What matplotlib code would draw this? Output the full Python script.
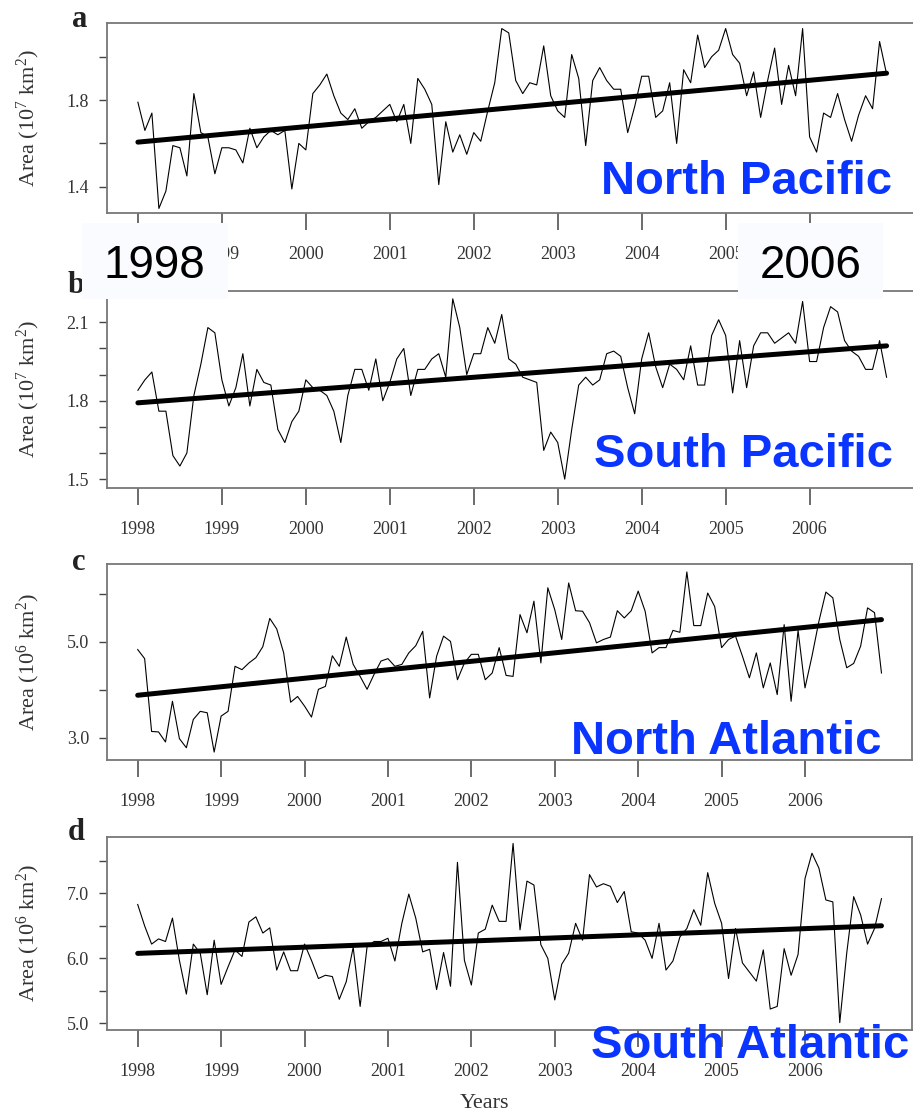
import numpy as np
import matplotlib
matplotlib.use("Agg")
import matplotlib.pyplot as plt
from matplotlib.patches import Rectangle

plt.rcParams['font.family'] = ['Liberation Serif', 'DejaVu Serif']
plt.rcParams['mathtext.fontset'] = 'custom'
plt.rcParams['mathtext.rm'] = 'Liberation Serif'
plt.rcParams['mathtext.it'] = 'Liberation Serif:italic'

# monthly data, Jan 1998 .. Dec 2006
years = 1998 + np.arange(108) / 12.0
year_ticks = [1998, 1999, 2000, 2001, 2002, 2003, 2004, 2005, 2006]

north_pacific = [
    1.79, 1.66, 1.74, 1.30, 1.38, 1.59, 1.58, 1.45, 1.83, 1.65, 1.63, 1.46,
    1.58, 1.58, 1.57, 1.51, 1.67, 1.58, 1.63, 1.66, 1.64, 1.66, 1.39, 1.60,
    1.57, 1.83, 1.87, 1.92, 1.82, 1.74, 1.71, 1.76, 1.67, 1.70, 1.72, 1.75,
    1.78, 1.70, 1.78, 1.60, 1.90, 1.85, 1.78, 1.41, 1.70, 1.56, 1.64, 1.55,
    1.65, 1.61, 1.75, 1.88, 2.13, 2.11, 1.89, 1.83, 1.88, 1.87, 2.05, 1.82,
    1.75, 1.72, 2.01, 1.90, 1.59, 1.89, 1.95, 1.89, 1.85, 1.85, 1.65, 1.77,
    1.91, 1.91, 1.72, 1.75, 1.88, 1.60, 1.94, 1.88, 2.10, 1.95, 2.00, 2.03,
    2.13, 2.01, 1.97, 1.82, 1.93, 1.72, 1.89, 2.04, 1.78, 1.96, 1.82, 2.13,
    1.63, 1.56, 1.74, 1.72, 1.83, 1.71, 1.61, 1.73, 1.82, 1.76, 2.07, 1.92]

south_pacific = [
    1.84, 1.88, 1.91, 1.76, 1.76, 1.59, 1.55, 1.60, 1.82, 1.94, 2.08, 2.06,
    1.88, 1.78, 1.85, 1.98, 1.78, 1.92, 1.87, 1.86, 1.69, 1.64, 1.72, 1.76,
    1.88, 1.85, 1.84, 1.82, 1.76, 1.64, 1.82, 1.92, 1.92, 1.84, 1.96, 1.80,
    1.87, 1.96, 2.00, 1.82, 1.92, 1.92, 1.96, 1.98, 1.89, 2.19, 2.08, 1.90,
    1.98, 1.98, 2.08, 2.02, 2.13, 1.96, 1.94, 1.89, 1.88, 1.87, 1.61, 1.68,
    1.64, 1.50, 1.69, 1.86, 1.89, 1.86, 1.88, 1.98, 1.99, 1.97, 1.85, 1.75,
    1.96, 2.06, 1.93, 1.85, 1.94, 1.92, 1.88, 2.01, 1.86, 1.86, 2.05, 2.11,
    2.05, 1.83, 2.03, 1.85, 2.01, 2.06, 2.06, 2.02, 2.04, 2.06, 2.02, 2.18,
    1.95, 1.95, 2.08, 2.16, 2.14, 2.03, 1.99, 1.97, 1.92, 1.92, 2.03, 1.89]

north_atlantic = [
    4.84, 4.65, 3.13, 3.12, 2.91, 3.76, 2.98, 2.79, 3.38, 3.55, 3.52, 2.70,
    3.45, 3.55, 4.49, 4.42, 4.56, 4.67, 4.90, 5.49, 5.27, 4.77, 3.74, 3.86,
    3.66, 3.43, 4.01, 4.07, 4.71, 4.49, 5.10, 4.53, 4.28, 4.01, 4.32, 4.60,
    4.65, 4.49, 4.53, 4.77, 4.92, 5.22, 3.83, 4.70, 5.12, 5.01, 4.21, 4.56,
    4.74, 4.74, 4.21, 4.35, 4.88, 4.30, 4.28, 5.57, 5.19, 5.85, 4.56, 6.13,
    5.67, 5.05, 6.23, 5.65, 5.64, 5.40, 4.98, 5.05, 5.10, 5.65, 5.50, 5.65,
    6.06, 5.64, 4.77, 4.88, 4.88, 5.24, 5.20, 6.46, 5.34, 5.34, 6.02, 5.74,
    4.88, 5.05, 5.12, 4.70, 4.25, 4.77, 4.04, 4.56, 3.90, 5.36, 3.76, 5.24,
    4.04, 4.70, 5.43, 6.04, 5.92, 5.05, 4.46, 4.55, 4.91, 5.71, 5.61, 4.35]

south_atlantic = [
    6.83, 6.50, 6.22, 6.30, 6.26, 6.62, 5.97, 5.45, 6.22, 6.08, 5.44, 6.28,
    5.60, 5.87, 6.13, 6.03, 6.56, 6.64, 6.39, 6.47, 5.82, 6.10, 5.81, 5.81,
    6.22, 5.97, 5.69, 5.74, 5.72, 5.37, 5.64, 6.17, 5.26, 6.18, 6.26, 6.26,
    6.31, 5.96, 6.54, 6.99, 6.62, 6.10, 6.14, 5.52, 6.09, 5.57, 7.48, 5.97,
    5.59, 6.39, 6.45, 6.82, 6.57, 6.57, 7.77, 6.44, 7.19, 7.13, 6.21, 6.00,
    5.36, 5.91, 6.08, 6.54, 6.28, 7.29, 7.10, 7.15, 7.11, 6.86, 7.03, 6.41,
    6.39, 6.28, 6.00, 6.54, 5.82, 5.96, 6.33, 6.46, 6.75, 6.51, 7.32, 6.85,
    6.54, 5.69, 6.46, 5.93, 5.79, 5.65, 6.13, 5.22, 5.26, 6.15, 5.74, 6.06,
    7.23, 7.62, 7.39, 6.90, 6.87, 5.01, 6.08, 6.95, 6.67, 6.22, 6.46, 6.92]

# linear trend, start and end values
trend_np = [1.606, 1.924]
trend_sp = [1.792, 2.010]
trend_na = [3.886, 5.465]
trend_sa = [6.077, 6.502]

names = ["North Pacific", "South Pacific", "North Atlantic", "South Atlantic"]
letters = ["a", "b", "c", "d"]
ylabels = [r"Area (10$^{7}$ km$^{2}$)", r"Area (10$^{7}$ km$^{2}$)",
           r"Area (10$^{6}$ km$^{2}$)", r"Area (10$^{6}$ km$^{2}$)"]
yticks = [[1.4, 1.6, 1.8, 2.0],
          [1.5, 1.6, 1.7, 1.8, 1.9, 2.0, 2.1],
          [3.0, 4.0, 5.0, 6.0],
          [5.0, 5.5, 6.0, 6.5, 7.0, 7.5]]
ytick_labels = [["1.4", "", "1.8", ""],
                ["1.5", "", "", "1.8", "", "", "2.1"],
                ["3.0", "", "5.0", ""],
                ["5.0", "", "6.0", "", "7.0", ""]]
ylims = [(1.279, 2.157), (1.466, 2.220), (2.534, 6.626), (4.897, 7.874)]

series = [north_pacific, south_pacific, north_atlantic, south_atlantic]
trends = [trend_np, trend_sp, trend_na, trend_sa]

W, H = 913, 1115
fig = plt.figure(figsize=(W / 100, H / 100), dpi=100)

def fx(px):
    return px / W

def fy(py):
    return 1 - py / H

# axes boxes in pixels: left, top, right, bottom
boxes = [(107, 22.7, 917, 213), (107, 291, 917, 488),
         (107, 564, 911.7, 760), (107, 836.7, 911.7, 1030)]
letter_pos = [(72, 27), (68, 293), (72, 570), (68, 840)]
label_pos = [(891.7, 194), (893, 467), (881.7, 754), (909, 1058)]

blue = "#0a34ff"
grey = "#777777"

for i in range(4):
    l, t, r, b = boxes[i]
    ax = fig.add_axes([fx(l), fy(b), fx(r) - fx(l), fy(t) - fy(b)])
    ax.plot(years, series[i], color="black", lw=0.8)
    ax.plot([years[0], years[-1]], trends[i], color="black", lw=3.6,
            solid_capstyle="round")
    ax.set_xlim(1997.632, 2007.279)
    ax.set_ylim(ylims[i])
    ax.set_xticks(year_ticks)
    ax.set_xticklabels([str(y) for y in year_ticks])
    ax.set_yticks(yticks[i])
    ax.set_yticklabels(ytick_labels[i])
    ax.tick_params(axis="x", direction="out", length=12, width=1.1,
                   pad=12, labelsize=13, colors="#444444", labelcolor="#333333")
    ax.tick_params(axis="y", direction="out", length=6, width=1.0,
                   pad=7, labelsize=13, colors="#444444", labelcolor="#333333")
    for s in ax.spines.values():
        s.set_color(grey)
        s.set_linewidth(1.3)
    fig.text(fx(28), fy((t + b) / 2), ylabels[i], rotation=90,
             ha="center", va="center", fontsize=16, color="#333333")
    fig.text(fx(letter_pos[i][0]), fy(letter_pos[i][1]), letters[i],
             fontsize=22, fontweight="bold", color="#222222",
             ha="left", va="baseline")
    fig.text(fx(label_pos[i][0]), fy(label_pos[i][1]), names[i],
             family="Liberation Sans", fontweight="bold", fontsize=34,
             color=blue, ha="right", va="baseline", zorder=20)

fig.text(fx(484), fy(1103), "Years", fontsize=16, color="#333333",
         ha="center", va="center")

# white boxes with the big year labels
for x0, x1, txt in [(81.7, 227.7, "1998"), (738, 883, "2006")]:
    fig.add_artist(Rectangle((fx(x0), fy(299)), fx(x1) - fx(x0), fy(222.7) - fy(299),
                             transform=fig.transFigure, facecolor="#fafbfe",
                             edgecolor="none", zorder=10))
    fig.text(fx((x0 + x1) / 2), fy(278), txt, family="Liberation Sans",
             fontsize=33, color="black", ha="center", va="baseline", zorder=11)

fig.savefig("out.png", dpi=100)
